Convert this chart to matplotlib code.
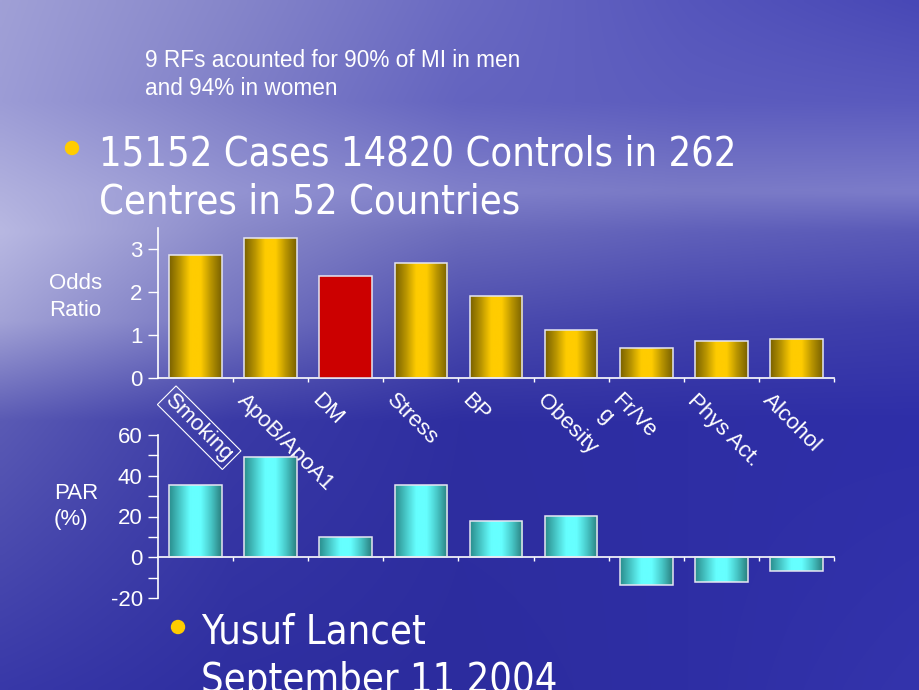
import matplotlib
matplotlib.use("Agg")
import matplotlib.pyplot as plt
import numpy as np
from matplotlib.colors import to_rgb, LinearSegmentedColormap
from matplotlib.patches import Circle

plt.rcParams["axes.unicode_minus"] = False

# data
factors = ["Smoking", "ApoB/ApoA1", "DM", "Stress", "BP", "Obesity", "Fr/Ve\ng", "Phys Act.", "Alcohol"]
odds_ratio = [2.87, 3.25, 2.37, 2.67, 1.91, 1.12, 0.70, 0.86, 0.91]
par_pct = [35.7, 49.2, 9.9, 35.5, 17.9, 20.1, -13.7, -12.2, -6.7]
odds_ticks = [0, 1, 2, 3]
par_ticks = [-20, 0, 20, 40, 60]

WHITE = "white"
ARIAL = "Liberation Sans"
FS = 16

fig = plt.figure(figsize=(9.2, 6.9), dpi=100)

# background (sky over sea), built from a few colour control points
gx = [0, 230, 460, 690, 920]
gy = [0, 100, 190, 230, 320, 420, 690]
grid = [
    ["#a0a0d6", "#8686ca", "#6a6ac2", "#5656bc", "#4848b6"],
    ["#9c9cd6", "#8080c8", "#6464c0", "#5c5cbe", "#5a5abe"],
    ["#b0b0de", "#9494d2", "#8080ca", "#7a7ac6", "#7c7cca"],
    ["#b8b8e2", "#8a8aca", "#6c6cbc", "#6060ba", "#5a5ab8"],
    ["#a2a2d6", "#7474c0", "#4c4cae", "#4242ac", "#3e3eac"],
    ["#5a5ab4", "#3a3aa6", "#2e2ea0", "#2e2ea4", "#2e2ea8"],
    ["#3838a8", "#2e2ea0", "#2c2c9e", "#2e2ea4", "#3434ac"],
]
ctrl = np.array([[to_rgb(c) for c in row] for row in grid])
xs = np.arange(0, 921, 4)
ys = np.arange(0, 691, 4)
rows = np.array([[np.interp(xs, gx, ctrl[r, :, ch]) for ch in range(3)] for r in range(len(gy))])
img = np.zeros((len(ys), len(xs), 3))
for ch in range(3):
    for j in range(len(xs)):
        img[:, j, ch] = np.interp(ys, gy, rows[:, ch, j])

bg = fig.add_axes([0, 0, 1, 1])
bg.imshow(img, extent=[0, 920, 690, 0], aspect="auto", interpolation="bilinear")
bg.set_xlim(0, 920)
bg.set_ylim(690, 0)
bg.axis("off")

# slide texts
for txt, yb in [("9 RFs acounted for 90% of MI in men", 67), ("and 94% in women", 95)]:
    bg.text(145, yb, txt, color=WHITE, fontsize=16.3, family=ARIAL, va="baseline")

big = dict(color=WHITE, fontsize=28.5, family="DejaVu Sans", fontstretch="condensed", va="baseline")
for txt, yb in [("15152 Cases 14820 Controls in 262", 166), ("Centres in 52 Countries", 214)]:
    bg.text(99, yb, txt, **big)
for txt, yb in [("Yusuf Lancet", 644), ("September 11 2004", 692)]:
    bg.text(201, yb, txt, **big)
for cx, cy in [(72, 148), (178, 627)]:
    bg.add_patch(Circle((cx, cy), 6.5, color="#ffcc00"))

for txt, yb in [("Odds", 289), ("Ratio", 316)]:
    bg.text(49, yb, txt, color=WHITE, fontsize=FS, family=ARIAL, va="baseline")
for txt, yb in [("PAR", 499), ("(%)", 525)]:
    bg.text(54, yb, txt, color=WHITE, fontsize=FS, family=ARIAL, va="baseline")

gold = LinearSegmentedColormap.from_list(
    "gold", ["#7a6200", "#b89400", "#ffcc00", "#ffcc00", "#b89400", "#7a6200"])
cyan = LinearSegmentedColormap.from_list(
    "cyan", ["#2a8e8e", "#48c8c8", "#66ffff", "#66ffff", "#48c8c8", "#2a8080"])
ramp = np.linspace(0, 1, 64).reshape(1, -1)


def shaded_bars(ax, vals, cmap, solid=None):
    xpos = np.arange(len(vals))
    bars = ax.bar(xpos, vals, width=0.7, color="none", edgecolor="#e6e6f2",
                  linewidth=1.1, zorder=3)
    for k, b in enumerate(bars):
        if solid and k in solid:
            b.set_facecolor(solid[k])
            continue
        bb = b.get_bbox()
        im = ax.imshow(ramp, cmap=cmap, extent=[bb.x0, bb.x1, min(bb.y0, bb.y1), max(bb.y0, bb.y1)],
                       aspect="auto", interpolation="bicubic", zorder=2)
        im.set_clip_path(b)
    return bars


def style_axis(ax):
    ax.set_facecolor("none")
    for s in ["top", "right"]:
        ax.spines[s].set_visible(False)
    for s in ["left", "bottom"]:
        ax.spines[s].set_color(WHITE)
        ax.spines[s].set_linewidth(1.2)
    ax.set_xlim(-0.5, len(factors) - 0.5)
    ax.set_xticks(np.arange(len(factors)) + 0.5)
    ax.set_xticklabels([])
    ax.tick_params(axis="x", length=3, width=1, color=WHITE, direction="out")
    ax.tick_params(axis="y", which="both", length=7, width=1, color=WHITE,
                   labelcolor=WHITE, labelsize=FS, pad=4)
    for t in ax.get_yticklabels():
        t.set_family(ARIAL)


# odds ratio chart
ax1 = fig.add_axes([158 / 920, (690 - 377.7) / 690, 676 / 920, 150 / 690])
shaded_bars(ax1, odds_ratio, gold, solid={2: "#cc0000"})
ax1.set_ylim(0, 3.5)
ax1.set_yticks(odds_ticks)
style_axis(ax1)

for i, lab in enumerate(factors):
    kw = dict(color=WHITE, fontsize=FS, family=ARIAL, rotation=-45,
              rotation_mode="anchor", ha="left", va="top", linespacing=1.0,
              transform=ax1.get_xaxis_transform())
    dx = -0.31
    if lab == "Smoking":
        kw["bbox"] = dict(boxstyle="square,pad=0.12", fc="none", ec=WHITE, lw=0.8)
        dx = -0.26
    ax1.text(i + dx, -0.08, lab, **kw)

# PAR chart
ax2 = fig.add_axes([158 / 920, (690 - 598) / 690, 676 / 920, 163 / 690])
shaded_bars(ax2, par_pct, cyan)
ax2.set_ylim(-20, 60)
ax2.set_yticks(par_ticks)
ax2.set_yticks([-10, 10, 30, 50], minor=True)
style_axis(ax2)
ax2.spines["bottom"].set_position(("data", 0))

fig.savefig("out.png", dpi=100)
